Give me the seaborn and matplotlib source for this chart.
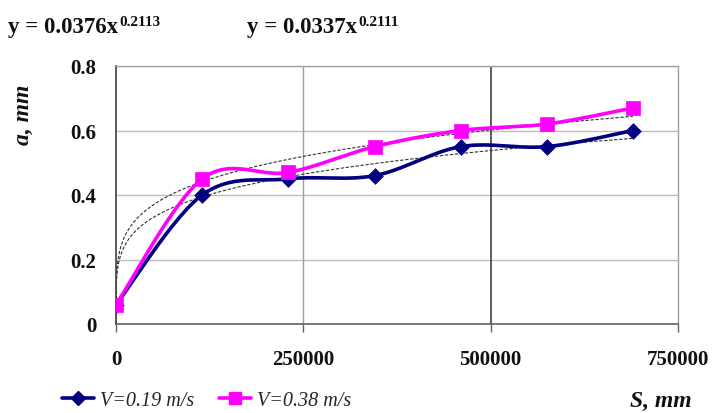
import numpy as np
import pandas as pd
import matplotlib
matplotlib.use("Agg")
import matplotlib.pyplot as plt
from matplotlib.lines import Line2D
import seaborn as sns

# Wear data: sliding path S (mm) vs wear a (mm) at two sliding speeds
path_mm = [0, 115000, 230000, 345000, 460000, 575000, 690000]
wear_v019 = [0.06, 0.40, 0.45, 0.46, 0.55, 0.55, 0.60]
wear_v038 = [0.06, 0.45, 0.47, 0.55, 0.60, 0.62, 0.67]
series_labels = ["V=0.19 m/s", "V=0.38 m/s"]

# Power-law trend lines y = k * x^n
trend_v038 = (0.0376, 0.2113)
trend_v019 = (0.0337, 0.2111)

x_ticks = [0, 250000, 500000, 750000]
y_ticks = [0, 0.2, 0.4, 0.6, 0.8]

NAVY = "#000080"
MAGENTA = "#FF00FF"
SERIF = "Liberation Serif"

sns.set_theme(style="white")
plt.rcParams["font.family"] = [SERIF, "DejaVu Serif"]

fig = plt.figure(figsize=(7.19, 4.14), dpi=100)
ax = fig.add_axes([116 / 719, 1 - 325 / 414, 562 / 719, 258 / 414])
ax.set_xlim(0, 750000)
ax.set_ylim(0, 0.8)


def smooth_curve(xs, ys, n=30):
    """Bezier smoothing through the points, computed in screen-proportional units."""
    sx = 562 / 750000
    sy = 258 / 0.8
    P = np.column_stack([np.asarray(xs, float) * sx, np.asarray(ys, float) * sy])
    Pe = np.vstack([P[0], P, P[-1]])
    out = []
    t = np.linspace(0, 1, n)[:, None]
    for i in range(len(P) - 1):
        p0, p1, pm, pp = Pe[i + 1], Pe[i + 2], Pe[i], Pe[i + 3]
        c1 = p0 + (p1 - pm) / 6
        c2 = p1 - (pp - p0) / 6
        seg = ((1 - t) ** 3) * p0 + 3 * ((1 - t) ** 2) * t * c1 + 3 * (1 - t) * t ** 2 * c2 + t ** 3 * p1
        out.append(seg if i == 0 else seg[1:])
    pts = np.vstack(out)
    return pts[:, 0] / sx, pts[:, 1] / sy


# grid
for yv in y_ticks[1:]:
    ax.axhline(yv, color="#bdbdbd", lw=1.0, zorder=0)
ax.axvline(250000, color="#9e9e9e", lw=1.0, zorder=0)
ax.axvline(500000, color="#404040", lw=1.2, zorder=0)

# trend lines
xt = np.concatenate([[0.0], np.geomspace(1e-4, path_mm[-1], 500)])
for k, n in (trend_v038, trend_v019):
    df_t = pd.DataFrame({"S": xt, "a": k * xt ** n})
    sns.lineplot(data=df_t, x="S", y="a", ax=ax, color="#333333", lw=0.8,
                 linestyle=(0, (3, 1.5)), sort=False, zorder=2)

# measured series
for ys, col, mk, ms in ((wear_v019, NAVY, "D", 8), (wear_v038, MAGENTA, "s", 10)):
    cx, cy = smooth_curve(path_mm, ys)
    sns.lineplot(x=cx, y=cy, ax=ax, color=col, lw=2.6, sort=False, zorder=3)
    sns.scatterplot(x=path_mm, y=ys, ax=ax, color=col, marker=mk, s=ms ** 2,
                    edgecolor=col, linewidth=0.5, zorder=4)

# spines and ticks
for side in ("top", "right"):
    ax.spines[side].set_color("#a0a0a0")
    ax.spines[side].set_linewidth(1.0)
ax.spines["left"].set_color("#404040")
ax.spines["bottom"].set_color("#606060")
ax.spines["left"].set_linewidth(1.2)
ax.spines["bottom"].set_linewidth(1.2)

ax.set_xticks(x_ticks)
ax.set_xticklabels([str(v) for v in x_ticks])
ax.set_yticks(y_ticks)
ax.set_yticklabels(["0", "0.2", "0.4", "0.6", "0.8"])
ax.tick_params(axis="x", direction="out", length=6, width=1, color="#606060",
               pad=12, bottom=True)
ax.tick_params(axis="y", length=0, pad=14)
for lab in ax.get_xticklabels() + ax.get_yticklabels():
    lab.set_fontsize(15)
    lab.set_fontweight("bold")
    lab.set_color("#111111")

ax.set_xlabel("")
ax.set_ylabel("")
fig.text(23 / 719, 1 - 115 / 414, "a, mm", rotation=90, ha="center", va="center",
         fontsize=17, fontweight="bold", fontstyle="italic", color="#111111")
fig.text(661 / 719, 1 - 401 / 414, "S, mm", ha="center", va="center",
         fontsize=17, fontweight="bold", fontstyle="italic", color="#111111")

# trend equations
for x0, (k, n) in ((8, trend_v038), (247, trend_v019)):
    base = fig.text(x0 / 719, 1 - 28 / 414, f"y = {k:.4f}x", ha="left", va="center",
                    fontsize=16.5, fontweight="bold", color="#111111")
    ax.annotate(f"{n:.4f}", xy=(1.0, 1.0), xycoords=base, xytext=(1, 1),
                textcoords="offset points", ha="left", va="top",
                fontsize=11, fontweight="bold", color="#111111")

# legend
handles = [
    Line2D([], [], color=NAVY, lw=2.6, marker="D", markersize=7),
    Line2D([], [], color=MAGENTA, lw=2.6, marker="s", markersize=8),
]
fig.legend(handles, series_labels, loc="center left", bbox_to_anchor=(44 / 719, 1 - 401 / 414),
           ncol=2, frameon=False, handlelength=1.6, columnspacing=1.2, handletextpad=0.3,
           prop={"family": SERIF, "style": "italic", "size": 14.5})

fig.savefig("out.png", dpi=100, facecolor="white")
